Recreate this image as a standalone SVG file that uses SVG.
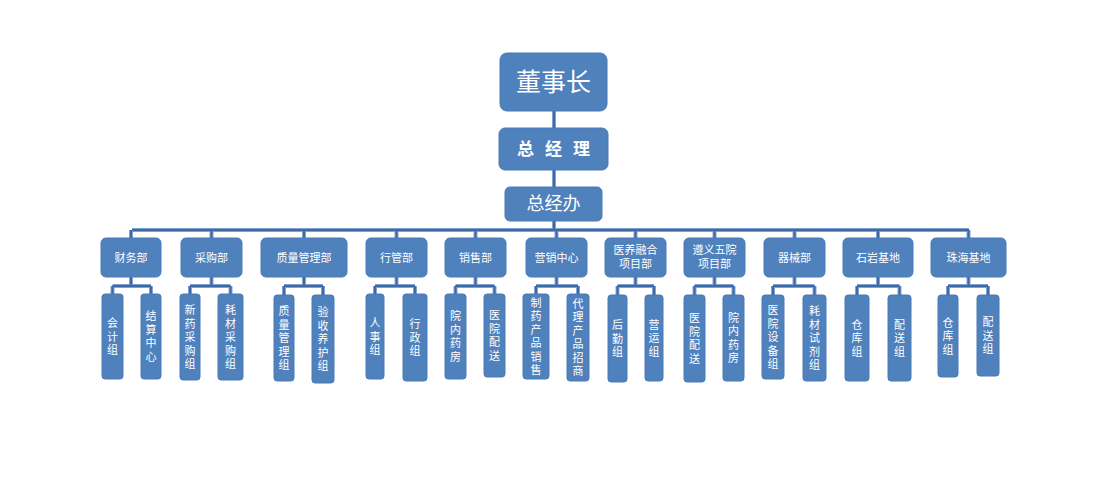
<svg xmlns="http://www.w3.org/2000/svg" width="1106" height="500" viewBox="0 0 1106 500">
<style>
.bx{fill:#4f81bd;stroke:#4a7bb7;stroke-width:1}
.t{fill:#fff;font-family:"Noto Sans CJK SC","Microsoft YaHei",sans-serif;text-anchor:middle}
.d{font-size:11px}
.c{font-size:11px;font-family:"Liberation Sans","Noto Sans CJK SC",sans-serif}
.lo{fill:none;stroke:#7fa3d3;stroke-width:4}
.li{fill:none;stroke:#3f68a5;stroke-width:2}
</style>
<rect width="1106" height="500" fill="#fff"/>
<defs>
<path id="conn" d="M554,111V230M132,230H969
M131,230V238M211.5,230V238M304,230V238M396.5,230V238M475.5,230V238M556.5,230V238M635.5,230V238M714.5,230V238M794.5,230V238M878,230V238M968.5,230V238
M131,277V286M112.5,286H151M112.5,286V294M151,286V294
M211.5,277V286M190,286H230.5M190,286V294M230.5,286V294
M304,277V286M284,286H323M284,286V295M323,286V295
M396.5,277V286M375,286H415M375,286V294M415,286V294
M475.5,277V286M455.5,286H494.5M455.5,286V294M494.5,286V294
M556.5,277V286M536,286H578M536,286V294M578,286V294
M635.5,277V286M617.5,286H654M617.5,286V295M654,286V295
M714.5,277V286M694.5,286H733.5M694.5,286V295M733.5,286V295
M794.5,277V286M773,286H814.5M773,286V295M814.5,286V295
M878,277V286M857,286H899.5M857,286V295M899.5,286V295
M968.5,277V286M948,286H988M948,286V295M988,286V295"/>
</defs>
<g id="connectors">
<use href="#conn" class="lo"/>
<use href="#conn" class="li"/>
</g>
<g id="n-dongshizhang"><rect class="bx" x="500" y="53" width="107" height="58" rx="7"/><text class="t" x="553.5" y="91" font-size="25">董事长</text></g>
<g id="n-zongjingli"><rect class="bx" x="499" y="128" width="109" height="42" rx="6"/><text class="t" x="559" y="155" font-size="17" font-weight="bold" letter-spacing="11">总经理</text></g>
<g id="n-zongjingban"><rect class="bx" x="505" y="187" width="97" height="34" rx="5"/><text class="t" x="553.5" y="210" font-size="18">总经办</text></g>

<g id="d-caiwu"><rect class="bx" x="101" y="238" width="60" height="39" rx="5"/><text class="t d" x="131" y="261.5">财务部</text></g>
<g id="d-caigou"><rect class="bx" x="181" y="238" width="61" height="39" rx="5"/><text class="t d" x="211.5" y="261.5">采购部</text></g>
<g id="d-zhiliang"><rect class="bx" x="261" y="238" width="86" height="39" rx="5"/><text class="t d" x="304" y="261.5">质量管理部</text></g>
<g id="d-xingguan"><rect class="bx" x="366" y="238" width="61" height="39" rx="5"/><text class="t d" x="396.5" y="261.5">行管部</text></g>
<g id="d-xiaoshou"><rect class="bx" x="445" y="238" width="61" height="39" rx="5"/><text class="t d" x="475.5" y="261.5">销售部</text></g>
<g id="d-yingxiao"><rect class="bx" x="526" y="238" width="61" height="39" rx="5"/><text class="t d" x="556.5" y="261.5">营销中心</text></g>
<g id="d-yiyang"><rect class="bx" x="605" y="238" width="61" height="39" rx="5"/><text class="t d" x="635.5" y="254">医养融合</text><text class="t d" x="635.5" y="268">项目部</text></g>
<g id="d-zunyi"><rect class="bx" x="684" y="238" width="61" height="39" rx="5"/><text class="t d" x="714.5" y="254">遵义五院</text><text class="t d" x="714.5" y="268">项目部</text></g>
<g id="d-qixie"><rect class="bx" x="764" y="238" width="61" height="39" rx="5"/><text class="t d" x="794.5" y="261.5">器械部</text></g>
<g id="d-shiyan"><rect class="bx" x="843" y="238" width="70" height="39" rx="5"/><text class="t d" x="878" y="261.5">石岩基地</text></g>
<g id="d-zhuhai"><rect class="bx" x="931" y="238" width="75" height="39" rx="5"/><text class="t d" x="968.5" y="261.5">珠海基地</text></g>

<g id="c-kuaiji"><rect class="bx" x="102" y="294" width="21" height="85" rx="3"/><text class="t c" y="327"><tspan x="112.5">会</tspan><tspan x="112.5" dy="13.5">计</tspan><tspan x="112.5" dy="13.5">组</tspan></text></g>
<g id="c-jiesuan"><rect class="bx" x="141" y="294" width="20" height="85" rx="3"/><text class="t c" y="320.25"><tspan x="151">结</tspan><tspan x="151" dy="13.5">算</tspan><tspan x="151" dy="13.5">中</tspan><tspan x="151" dy="13.5">心</tspan></text></g>
<g id="c-xinyao"><rect class="bx" x="180" y="294" width="20" height="86" rx="3"/><text class="t c" y="314"><tspan x="190">新</tspan><tspan x="190" dy="13.5">药</tspan><tspan x="190" dy="13.5">采</tspan><tspan x="190" dy="13.5">购</tspan><tspan x="190" dy="13.5">组</tspan></text></g>
<g id="c-haocai"><rect class="bx" x="218" y="294" width="25" height="86" rx="3"/><text class="t c" y="314"><tspan x="230.5">耗</tspan><tspan x="230.5" dy="13.5">材</tspan><tspan x="230.5" dy="13.5">采</tspan><tspan x="230.5" dy="13.5">购</tspan><tspan x="230.5" dy="13.5">组</tspan></text></g>
<g id="c-zlgl"><rect class="bx" x="274" y="295" width="20" height="86" rx="3"/><text class="t c" y="315"><tspan x="284">质</tspan><tspan x="284" dy="13.5">量</tspan><tspan x="284" dy="13.5">管</tspan><tspan x="284" dy="13.5">理</tspan><tspan x="284" dy="13.5">组</tspan></text></g>
<g id="c-yanshou"><rect class="bx" x="312" y="295" width="22" height="88" rx="3"/><text class="t c" y="316"><tspan x="323">验</tspan><tspan x="323" dy="13.5">收</tspan><tspan x="323" dy="13.5">养</tspan><tspan x="323" dy="13.5">护</tspan><tspan x="323" dy="13.5">组</tspan></text></g>
<g id="c-renshi"><rect class="bx" x="366" y="294" width="18" height="85" rx="3"/><text class="t c" y="327"><tspan x="375">人</tspan><tspan x="375" dy="13.5">事</tspan><tspan x="375" dy="13.5">组</tspan></text></g>
<g id="c-xingzheng"><rect class="bx" x="403" y="294" width="24" height="87" rx="3"/><text class="t c" y="328"><tspan x="415">行</tspan><tspan x="415" dy="13.5">政</tspan><tspan x="415" dy="13.5">组</tspan></text></g>
<g id="c-yuannei1"><rect class="bx" x="445" y="294" width="21" height="85" rx="3"/><text class="t c" y="320.25"><tspan x="455.5">院</tspan><tspan x="455.5" dy="13.5">内</tspan><tspan x="455.5" dy="13.5">药</tspan><tspan x="455.5" dy="13.5">房</tspan></text></g>
<g id="c-peisong1"><rect class="bx" x="484" y="294" width="21" height="83" rx="3"/><text class="t c" y="319.25"><tspan x="494.5">医</tspan><tspan x="494.5" dy="13.5">院</tspan><tspan x="494.5" dy="13.5">配</tspan><tspan x="494.5" dy="13.5">送</tspan></text></g>
<g id="c-zhiyao"><rect class="bx" x="523" y="294" width="26" height="85" rx="3"/><text class="t c" y="306.75"><tspan x="536">制</tspan><tspan x="536" dy="13.5">药</tspan><tspan x="536" dy="13.5">产</tspan><tspan x="536" dy="13.5">品</tspan><tspan x="536" dy="13.5">销</tspan><tspan x="536" dy="13.5">售</tspan></text></g>
<g id="c-daili"><rect class="bx" x="567" y="294" width="22" height="87" rx="3"/><text class="t c" y="307.75"><tspan x="578">代</tspan><tspan x="578" dy="13.5">理</tspan><tspan x="578" dy="13.5">产</tspan><tspan x="578" dy="13.5">品</tspan><tspan x="578" dy="13.5">招</tspan><tspan x="578" dy="13.5">商</tspan></text></g>
<g id="c-houqin"><rect class="bx" x="608" y="295" width="19" height="87" rx="3"/><text class="t c" y="329"><tspan x="617.5">后</tspan><tspan x="617.5" dy="13.5">勤</tspan><tspan x="617.5" dy="13.5">组</tspan></text></g>
<g id="c-yingyun"><rect class="bx" x="645" y="295" width="18" height="86" rx="3"/><text class="t c" y="328.5"><tspan x="654">营</tspan><tspan x="654" dy="13.5">运</tspan><tspan x="654" dy="13.5">组</tspan></text></g>
<g id="c-peisong2"><rect class="bx" x="684" y="295" width="21" height="87" rx="3"/><text class="t c" y="322.25"><tspan x="694.5">医</tspan><tspan x="694.5" dy="13.5">院</tspan><tspan x="694.5" dy="13.5">配</tspan><tspan x="694.5" dy="13.5">送</tspan></text></g>
<g id="c-yuannei2"><rect class="bx" x="723" y="295" width="21" height="86" rx="3"/><text class="t c" y="321.75"><tspan x="733.5">院</tspan><tspan x="733.5" dy="13.5">内</tspan><tspan x="733.5" dy="13.5">药</tspan><tspan x="733.5" dy="13.5">房</tspan></text></g>
<g id="c-shebei"><rect class="bx" x="762" y="295" width="22" height="84" rx="3"/><text class="t c" y="314"><tspan x="773">医</tspan><tspan x="773" dy="13.5">院</tspan><tspan x="773" dy="13.5">设</tspan><tspan x="773" dy="13.5">备</tspan><tspan x="773" dy="13.5">组</tspan></text></g>
<g id="c-shiji"><rect class="bx" x="803" y="295" width="23" height="86" rx="3"/><text class="t c" y="315"><tspan x="814.5">耗</tspan><tspan x="814.5" dy="13.5">材</tspan><tspan x="814.5" dy="13.5">试</tspan><tspan x="814.5" dy="13.5">剂</tspan><tspan x="814.5" dy="13.5">组</tspan></text></g>
<g id="c-cangku1"><rect class="bx" x="845" y="295" width="24" height="86" rx="3"/><text class="t c" y="328.5"><tspan x="857">仓</tspan><tspan x="857" dy="13.5">库</tspan><tspan x="857" dy="13.5">组</tspan></text></g>
<g id="c-peisong3"><rect class="bx" x="888" y="295" width="23" height="86" rx="3"/><text class="t c" y="328.5"><tspan x="899.5">配</tspan><tspan x="899.5" dy="13.5">送</tspan><tspan x="899.5" dy="13.5">组</tspan></text></g>
<g id="c-cangku2"><rect class="bx" x="938" y="295" width="20" height="82" rx="3"/><text class="t c" y="326.5"><tspan x="948">仓</tspan><tspan x="948" dy="13.5">库</tspan><tspan x="948" dy="13.5">组</tspan></text></g>
<g id="c-peisong4"><rect class="bx" x="977" y="295" width="22" height="81" rx="3"/><text class="t c" y="326"><tspan x="988">配</tspan><tspan x="988" dy="13.5">送</tspan><tspan x="988" dy="13.5">组</tspan></text></g>
</svg>
